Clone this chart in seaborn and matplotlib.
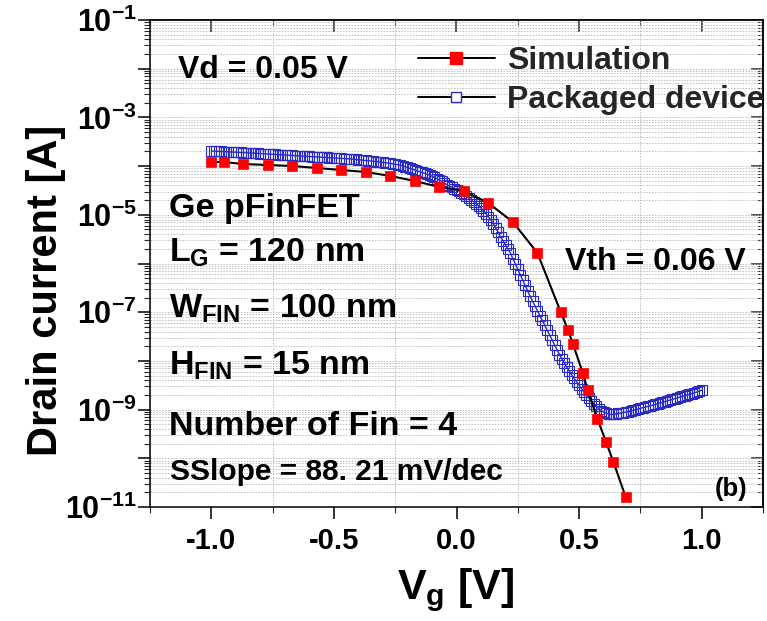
import numpy as np
import matplotlib
matplotlib.use('Agg')
import matplotlib.pyplot as plt
import seaborn as sns
from matplotlib.lines import Line2D
from matplotlib.ticker import LogLocator, MultipleLocator, NullFormatter, FuncFormatter, FormatStrFormatter

# ---------------------------------------------------------------------------
# Datos (corriente en log10 [A])
# ---------------------------------------------------------------------------
vg_sim = [-1.00, -0.95, -0.87, -0.77, -0.67, -0.57, -0.47, -0.37, -0.27, -0.17,
          -0.07, 0.03, 0.13, 0.23, 0.33, 0.425, 0.455, 0.475, 0.515, 0.535,
          0.575, 0.61, 0.64, 0.69]
log_id_sim = [-3.916, -3.916, -3.957, -3.977, -3.998, -4.039, -4.080, -4.121, -4.203, -4.306,
              -4.429, -4.511, -4.758, -5.148, -5.784, -6.996, -7.366, -7.653, -8.248, -8.598,
              -9.193, -9.665, -10.076, -10.795]

# barrido de Vg del dispositivo empaquetado: -1.0 V a 1.0 V
vg_pkg_range = (-1.0, 1.0)
log_id_pkg = [
    -3.690, -3.692, -3.695, -3.697, -3.700, -3.702, -3.705, -3.707, -3.710, -3.712,
    -3.715, -3.717, -3.720, -3.722, -3.725, -3.727, -3.730, -3.733, -3.736, -3.739,
    -3.742, -3.745, -3.748, -3.751, -3.754, -3.757, -3.760, -3.763, -3.766, -3.769,
    -3.772, -3.775, -3.778, -3.781, -3.784, -3.787, -3.790, -3.793, -3.796, -3.799,
    -3.802, -3.805, -3.808, -3.811, -3.814, -3.817, -3.820, -3.823, -3.826, -3.829,
    -3.832, -3.835, -3.838, -3.841, -3.844, -3.847, -3.850, -3.854, -3.859, -3.864,
    -3.869, -3.874, -3.880, -3.885, -3.890, -3.896, -3.901, -3.906, -3.911, -3.916,
    -3.924, -3.931, -3.939, -3.946, -3.954, -3.962, -3.969, -3.977, -3.994, -4.011,
    -4.028, -4.045, -4.062, -4.080, -4.097, -4.114, -4.131, -4.148, -4.165, -4.183,
    -4.208, -4.234, -4.259, -4.285, -4.316, -4.347, -4.378, -4.409, -4.435, -4.460,
    -4.486, -4.511, -4.547, -4.583, -4.619, -4.655, -4.693, -4.732, -4.773, -4.815,
    -4.860, -4.915, -4.975, -5.040, -5.107, -5.185, -5.270, -5.360, -5.456, -5.540,
    -5.620, -5.700, -5.784, -5.900, -6.010, -6.120, -6.230, -6.340, -6.450, -6.560,
    -6.670, -6.770, -6.870, -6.970, -7.070, -7.170, -7.270, -7.370, -7.470, -7.570,
    -7.670, -7.770, -7.870, -7.960, -8.050, -8.130, -8.210, -8.290, -8.360, -8.430,
    -8.500, -8.570, -8.640, -8.700, -8.760, -8.820, -8.880, -8.930, -8.980, -9.020,
    -9.050, -9.070, -9.090, -9.100, -9.100, -9.090, -9.080, -9.070, -9.060, -9.050,
    -9.040, -9.030, -9.015, -9.000, -8.990, -8.975, -8.960, -8.950, -8.935, -8.920,
    -8.910, -8.895, -8.880, -8.865, -8.850, -8.835, -8.820, -8.805, -8.790, -8.775,
    -8.760, -8.745, -8.730, -8.715, -8.700, -8.685, -8.670, -8.655, -8.640, -8.620, -8.600,
]

series_labels = ['Simulation', 'Packaged device']
notes = ['Ge pFinFET', r'$L_G$ = 120 nm', r'$W_{FIN}$ = 100 nm',
         r'$H_{FIN}$ = 15 nm', 'Number of Fin = 4']

# ---------------------------------------------------------------------------
sns.set_theme(style='ticks')
plt.rcParams['font.family'] = ['Liberation Sans', 'DejaVu Sans']
plt.rcParams['font.weight'] = 'bold'
plt.rcParams['mathtext.fontset'] = 'custom'
plt.rcParams['mathtext.rm'] = 'Liberation Sans:bold'
plt.rcParams['mathtext.it'] = 'Liberation Sans:bold'
plt.rcParams['mathtext.bf'] = 'Liberation Sans:bold'
plt.rcParams['axes.unicode_minus'] = False

fig = plt.figure(figsize=(7.67, 6.21), dpi=100)
ax = fig.add_axes([150 / 767, 1 - 507 / 621, 613 / 767, 487 / 621])

vg_pkg = np.linspace(vg_pkg_range[0], vg_pkg_range[1], len(log_id_pkg))
id_pkg = 10 ** np.array(log_id_pkg)
id_sim = 10 ** np.array(log_id_sim)

blue = '#2a2ac4'
sns.lineplot(x=vg_pkg, y=id_pkg, ax=ax, color=blue, lw=1.0, marker='s',
             markersize=7, markerfacecolor='none', markeredgecolor=blue,
             markeredgewidth=0.8, legend=False, zorder=3)
sns.lineplot(x=vg_sim, y=id_sim, ax=ax, color='black', lw=1.5, marker='s',
             markersize=7.5, markerfacecolor='red', markeredgecolor='red',
             markeredgewidth=0.5, legend=False, zorder=4)

ax.set_yscale('log')
ax.set_xlim(-1.25, 1.25)
ax.set_ylim(1e-11, 1e-1)

ax.xaxis.set_major_locator(MultipleLocator(0.5))
ax.xaxis.set_minor_locator(MultipleLocator(0.25))
ax.xaxis.set_major_formatter(FormatStrFormatter('%.1f'))
ax.yaxis.set_major_locator(LogLocator(base=10, numticks=20))
ax.yaxis.set_minor_locator(LogLocator(base=10, subs=np.arange(2, 10), numticks=20))
ax.yaxis.set_minor_formatter(NullFormatter())


def _etiqueta_log(v, pos):
    e = int(round(np.log10(v)))
    return f'$10^{{{e}}}$' if e % 2 != 0 else ''


ax.yaxis.set_major_formatter(FuncFormatter(_etiqueta_log))

grid_kw = dict(color='#bdbdbd', linestyle=(0, (1.5, 1.5)), linewidth=0.7)
ax.grid(which='minor', axis='x', **grid_kw)
ax.grid(which='both', axis='y', **grid_kw)

ax.tick_params(axis='both', which='major', direction='out', length=8.5, width=1.1,
               labelsize=21, colors='black', top=False, right=False)
ax.tick_params(axis='both', which='minor', direction='out', length=4.5, width=0.8,
               top=False, right=False)
ax.tick_params(axis='x', which='major', pad=6)
ax.tick_params(axis='y', which='major', pad=1, labelsize=22)
for s in ax.spines.values():
    s.set_linewidth(1.1)
    s.set_color('black')

# ejes secundarios con ticks hacia dentro
axt = ax.secondary_xaxis('top')
axt.xaxis.set_major_locator(MultipleLocator(0.5))
axt.xaxis.set_minor_locator(MultipleLocator(0.25))
axt.xaxis.set_major_formatter(NullFormatter())
axt.tick_params(which='major', direction='in', length=8.5, width=1.1)
axt.tick_params(which='minor', direction='in', length=4.5, width=0.8)
axr = ax.secondary_yaxis('right')
axr.yaxis.set_major_locator(LogLocator(base=10, numticks=20))
axr.yaxis.set_minor_locator(LogLocator(base=10, subs=np.arange(2, 10), numticks=20))
axr.yaxis.set_major_formatter(NullFormatter())
axr.yaxis.set_minor_formatter(NullFormatter())
axr.tick_params(which='major', direction='in', length=8.5, width=1.1)
axr.tick_params(which='minor', direction='in', length=4.5, width=0.8)

ax.set_xlabel(r'$V_g$ [V]', fontsize=31, fontweight='bold', color='black')
ax.xaxis.set_label_coords(0.4976, -0.121)
ax.set_ylabel('Drain current [A]', fontsize=30, fontweight='bold', color='black')
ax.yaxis.set_label_coords(-0.137, 0.444)

# leyenda
handles = [
    Line2D([], [], color='black', lw=1.4, marker='s', markersize=8,
           markerfacecolor='red', markeredgecolor='red'),
    Line2D([], [], color='black', lw=1.4, marker='s', markersize=6.5,
           markerfacecolor='white', markeredgecolor=blue, markeredgewidth=1.0),
]
ax.legend(handles, series_labels, loc='upper left', bbox_to_anchor=(0.437, 0.947),
          frameon=False, fontsize=23, handlelength=2.4, handletextpad=0.4,
          labelspacing=0.3, borderpad=0, borderaxespad=0)

# anotaciones
def _px(x, y):
    return (x - 150) / 613, (507 - y) / 487


txt_kw = dict(transform=ax.transAxes, fontweight='bold', color='black', va='baseline')
ax.text(*_px(178, 78), 'Vd = 0.05 V', fontsize=23, **txt_kw)
for s, yb in zip(notes, [217, 262, 318, 375, 435]):
    ax.text(*_px(169, yb), s, fontsize=24.5, **txt_kw)
ax.text(*_px(170, 480), 'SSlope = 88. 21 mV/dec', fontsize=21.5, **txt_kw)
ax.text(*_px(565, 270), 'Vth = 0.06 V', fontsize=23, **txt_kw)
ax.text(*_px(715, 496), '(b)', fontsize=18.5, **txt_kw)

fig.savefig('out.png', dpi=100)
